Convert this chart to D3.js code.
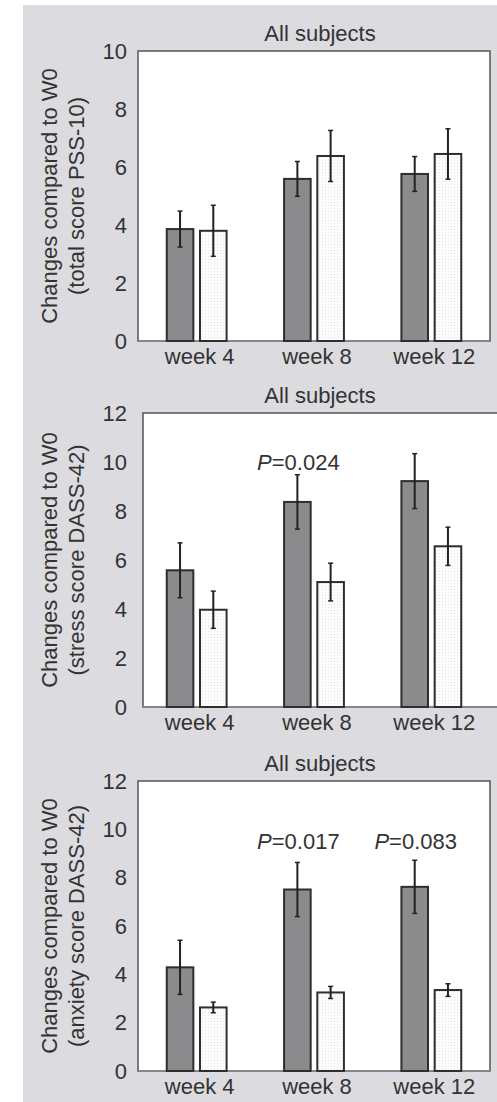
<!DOCTYPE html>
<html>
<head>
<meta charset="utf-8">
<script src="https://cdn.jsdelivr.net/npm/d3@7"></script>
<style>
  body { margin: 0; background: #fff; }
  svg { display: block; font-family: "Liberation Sans", Arial, sans-serif; }
  text { fill: #333; }
</style>
</head>
<body>
<svg id="chart" width="497" height="1102"></svg>
<script>
// categories
const weeks = ["week 4", "week 8", "week 12"];
const series = ["dark", "light"];

// panel 1 - total score PSS-10
const pssDark = [3.86, 5.59, 5.76];
const pssDarkErr = [0.62, 0.6, 0.6];
const pssLight = [3.8, 6.38, 6.45];
const pssLightErr = [0.88, 0.88, 0.87];
const pssTicks = [0, 2, 4, 6, 8, 10];
const pssP = [null, null, null];

// panel 2 - stress score DASS-42
const stressDark = [5.58, 8.37, 9.22];
const stressDarkErr = [1.12, 1.11, 1.12];
const stressLight = [3.97, 5.1, 6.56];
const stressLightErr = [0.76, 0.77, 0.78];
const stressP = [null, "0.024", null];

// panel 3 - anxiety score DASS-42
const anxDark = [4.29, 7.51, 7.62];
const anxDarkErr = [1.12, 1.12, 1.1];
const anxLight = [2.63, 3.25, 3.35];
const anxLightErr = [0.22, 0.25, 0.26];
const anxP = [null, "0.017", "0.083"];

const dassTicks = [0, 2, 4, 6, 8, 10, 12];

const titleText = "All subjects";
const yTitle = "Changes compared to W0";

var svg = d3.select("#chart");

// pattern for the dotted bars
var defs = svg.append("defs");
var pat = defs.append("pattern")
    .attr("id", "dots")
    .attr("width", 3).attr("height", 3)
    .attr("patternUnits", "userSpaceOnUse");
pat.append("rect").attr("width", 3).attr("height", 3).attr("fill", "#fdfdfd");
pat.append("rect").attr("x", 1).attr("y", 1).attr("width", 1).attr("height", 1).attr("fill", "#e4e4e4");

// gray page background
svg.append("rect")
    .attr("x", 23).attr("y", 5)
    .attr("width", 474).attr("height", 1097)
    .attr("fill", "#dcdbdf");

// shared x scale
var x0 = d3.scaleBand().domain(weeks).range([138, 490]).paddingInner(0.49).paddingOuter(0.245);
var x1 = d3.scaleBand().domain(series).range([0, x0.bandwidth()]).paddingInner(0.2);

var panels = [
    { top: 51, bottom: 341, left: 138, right: 490, max: 10, ticks: pssTicks, sub: "(total score PSS-10)",
      dark: pssDark, darkErr: pssDarkErr, light: pssLight, lightErr: pssLightErr, p: pssP, pY: 0 },
    { top: 413, bottom: 707, left: 143, right: 505, max: 12, ticks: dassTicks, sub: "(stress score DASS-42)",
      dark: stressDark, darkErr: stressDarkErr, light: stressLight, lightErr: stressLightErr, p: stressP, pY: 9.66 },
    { top: 781, bottom: 1071, left: 138, right: 490, max: 12, ticks: dassTicks, sub: "(anxiety score DASS-42)",
      dark: anxDark, darkErr: anxDarkErr, light: anxLight, lightErr: anxLightErr, p: anxP, pY: 9.2 }
];

panels.forEach(drawPanel);

function drawPanel(pn) {
    var g = svg.append("g");
    var y = d3.scaleLinear().domain([0, pn.max]).range([pn.bottom, pn.top]);

    // plot area
    g.append("rect")
        .attr("x", pn.left).attr("y", pn.top)
        .attr("width", pn.right - pn.left).attr("height", pn.bottom - pn.top)
        .attr("fill", "#fff")
        .attr("stroke", "#555")
        .attr("stroke-width", 1.5);
    g.append("line")
        .attr("x1", pn.left).attr("x2", pn.right)
        .attr("y1", pn.bottom).attr("y2", pn.bottom)
        .attr("stroke", "#8a8a8a").attr("stroke-width", 1.5);

    // title
    g.append("text")
        .attr("x", 320).attr("y", pn.top - 10)
        .attr("text-anchor", "middle")
        .style("font-size", "22px")
        .text(titleText);

    // y axis
    var yAxis = g.append("g")
        .attr("transform", `translate(138,0)`)
        .call(d3.axisLeft(y).tickValues(pn.ticks).tickSize(0).tickPadding(11));
    yAxis.select(".domain").remove();
    yAxis.selectAll("text")
        .style("font-size", "22px")
        .attr("fill", "#333")
        .attr("font-family", "Liberation Sans, Arial, sans-serif");

    // y title
    var cy = (pn.top + pn.bottom) / 2;
    g.append("text")
        .attr("transform", `translate(57,${cy}) rotate(-90)`)
        .attr("text-anchor", "middle")
        .style("font-size", "22px")
        .text(yTitle);
    g.append("text")
        .attr("transform", `translate(84,${cy}) rotate(-90)`)
        .attr("text-anchor", "middle")
        .style("font-size", "22px")
        .text(pn.sub);

    // x labels
    g.selectAll(".wk")
        .data(weeks)
        .enter().append("text")
        .attr("x", (d) => x0(d) + x0.bandwidth() / 2 + 3)
        .attr("y", pn.bottom + 23)
        .attr("text-anchor", "middle")
        .style("font-size", "22px")
        .text((d) => d);

    // bars
    var rows = [];
    weeks.forEach((w, i) => {
        rows.push({ week: w, s: "dark", v: pn.dark[i], e: pn.darkErr[i] });
        rows.push({ week: w, s: "light", v: pn.light[i], e: pn.lightErr[i] });
    });

    g.selectAll(".bar")
        .data(rows)
        .enter().append("rect")
        .attr("x", (d) => x0(d.week) + x1(d.s))
        .attr("y", (d) => y(d.v))
        .attr("width", x1.bandwidth())
        .attr("height", (d) => y(0) - y(d.v))
        .attr("fill", (d) => d.s == "dark" ? "#8b8b8d" : "url(#dots)")
        .attr("stroke", "#2e2e2e")
        .attr("stroke-width", 2);

    // error bars
    var cx = (d) => x0(d.week) + x1(d.s) + x1.bandwidth() / 2;
    g.selectAll(".err")
        .data(rows)
        .enter().append("line")
        .attr("x1", cx).attr("x2", cx)
        .attr("y1", (d) => y(d.v + d.e))
        .attr("y2", (d) => y(d.v - d.e))
        .attr("stroke", "#222")
        .attr("stroke-width", 2);
    [1, -1].forEach((sgn) => {
        g.selectAll(null)
            .data(rows)
            .enter().append("line")
            .attr("x1", (d) => cx(d) - 2.5).attr("x2", (d) => cx(d) + 2.5)
            .attr("y1", (d) => y(d.v + sgn * d.e))
            .attr("y2", (d) => y(d.v + sgn * d.e))
            .attr("stroke", "#222")
            .attr("stroke-width", 1.5);
    });

    // p-values
    var pt = g.selectAll(".pval")
        .data(weeks.map((w, i) => ({ week: w, p: pn.p[i] })).filter((d) => d.p))
        .enter().append("text")
        .attr("x", (d) => x0(d.week) + x1("dark") + x1.bandwidth() / 2 + 1)
        .attr("y", y(pn.pY))
        .attr("text-anchor", "middle")
        .style("font-size", "22px");
    pt.append("tspan").style("font-style", "italic").text("P");
    pt.append("tspan").text((d) => "=" + d.p);
}
</script>
</body>
</html>
